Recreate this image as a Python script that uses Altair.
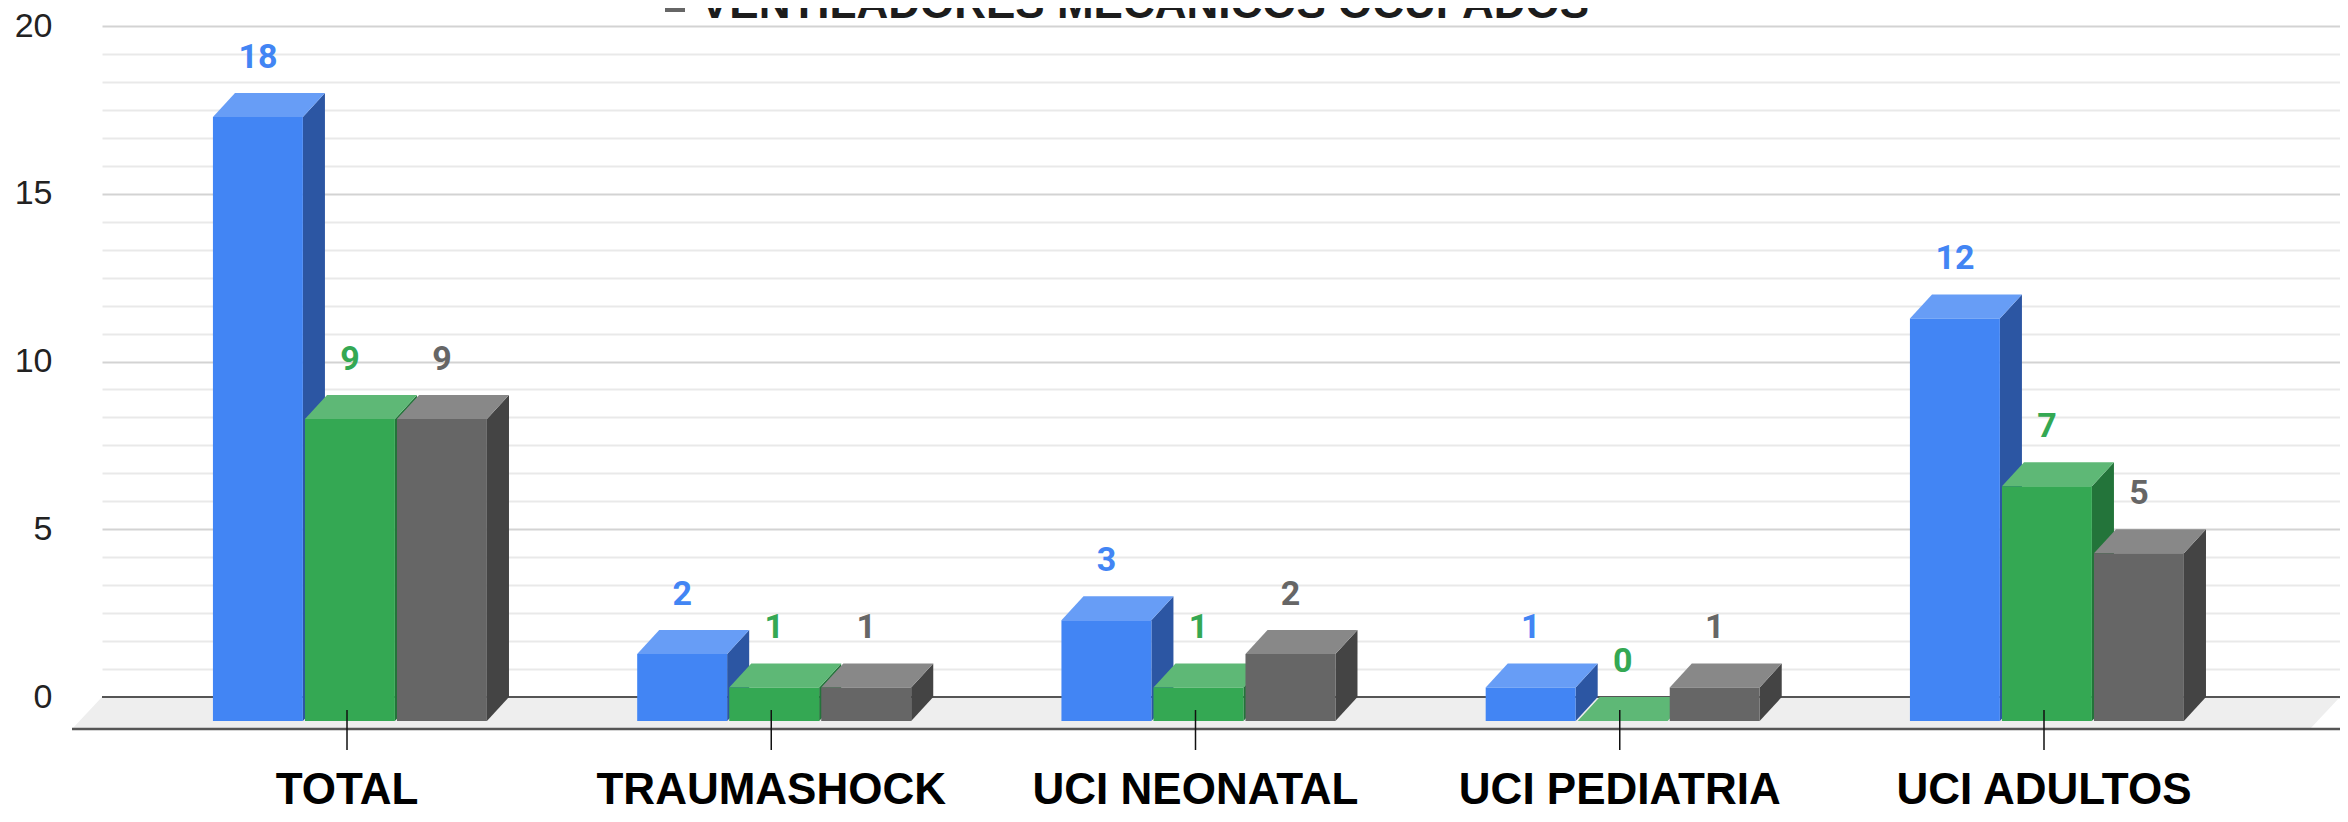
import altair as alt
import pandas as pd

# ---------------- data ----------------
categories = ["TOTAL", "TRAUMASHOCK", "UCI NEONATAL", "UCI PEDIATRIA", "UCI ADULTOS"]
serie_azul = [18, 2, 3, 1, 12]
serie_verde = [9, 1, 1, 0, 7]
serie_gris = [9, 1, 2, 1, 5]
legend_label = "VENTILADORES MECANICOS OCUPADOS"

series_values = [serie_azul, serie_verde, serie_gris]
front_colors = ["#4285F4", "#34A853", "#666666"]
side_colors = ["#2C56A3", "#23743A", "#444444"]
top_colors = ["#679DF6", "#5EB876", "#888888"]

# ---------------- style / geometry (in scale units) ----------------
BAR_W = 0.212
BAR_STEP = 0.2169
FIRST_LEFT = -0.316
DEPTH_X = 0.052
DEPTH_Y = 0.715
X_MIN, X_MAX = -0.5775, 4.6977
Y_MIN, Y_MAX = 0, 20
FLOOR_FRONT = -0.954
FLOOR_SHIFT = 0.0707

W, H = 2238, 671
PAD = {"left": 94, "top": 18, "right": 0, "bottom": 117}

xs = alt.Scale(domain=[X_MIN, X_MAX], nice=False, zero=False)
ys = alt.Scale(domain=[Y_MIN, Y_MAX], nice=False, zero=False)

front_rows, side_rows, top_rows, label_rows = [], [], [], []
for s, vals in enumerate(series_values):
    for i, v in enumerate(vals):
        bid = f"{s}-{i}"
        xl = i + FIRST_LEFT + s * BAR_STEP
        xr = xl + BAR_W
        front_rows.append(dict(bar=bid, xl=xl, xr=xr, y0=-DEPTH_Y, y1=v - DEPTH_Y, color=front_colors[s]))
        side_rows.append(dict(bar=bid, x=xr, lo=-DEPTH_Y, hi=v - DEPTH_Y, color=side_colors[s]))
        side_rows.append(dict(bar=bid, x=xr + DEPTH_X, lo=0.0, hi=float(v), color=side_colors[s]))
        top_rows.append(dict(bar=bid, y=v - DEPTH_Y, xa=xl, xb=xr, color=top_colors[s]))
        top_rows.append(dict(bar=bid, y=float(v), xa=xl + DEPTH_X, xb=xr + DEPTH_X, color=top_colors[s]))
        label_rows.append(dict(xc=(xl + xr) / 2, v=v, txt=str(v), color=front_colors[s]))

front_df = pd.DataFrame(front_rows)
side_df = pd.DataFrame(side_rows)
top_df = pd.DataFrame(top_rows)
label_df = pd.DataFrame(label_rows)
cat_df = pd.DataFrame({"idx": list(range(len(categories))), "cat": categories})

floor_df = pd.DataFrame({
    "fy": [0.0, FLOOR_FRONT],
    "fx": [X_MIN, X_MIN - FLOOR_SHIFT],
    "fx2": [X_MAX, X_MAX - FLOOR_SHIFT],
})

grid_values = [round(k * 5 / 6, 4) for k in range(25)]

y_axis = alt.Axis(
    values=grid_values,
    labelExpr="datum.value % 5 === 0 ? datum.label : ''",
    labelOverlap=False,
    labelFont="Liberation Sans, Arial, sans-serif",
    labelFontSize=34,
    labelColor="#222222",
    labelPadding=50,
    ticks=False,
    domain=False,
    grid=True,
    gridWidth=2,
    gridColor={"condition": {"test": "datum.value % 5 === 0", "value": "#d3d3d3"}, "value": "#e9e9e9"},
    title=None,
)


def Y(field, **kw):
    return alt.Y(field, scale=ys, axis=y_axis, **kw)


def X(field, **kw):
    return alt.X(field, scale=xs, axis=None, **kw)


floor = alt.Chart(floor_df).mark_area(orient="horizontal", color="#eeeeee").encode(
    y=Y("fy:Q"), x=X("fx:Q"), x2="fx2:Q",
)

zero_line = alt.Chart(pd.DataFrame({"a": [X_MIN], "b": [X_MAX], "y": [0.0]})).mark_rule(
    color="#555555", strokeWidth=2
).encode(x=X("a:Q"), x2="b:Q", y=Y("y:Q"))

front_line = alt.Chart(pd.DataFrame({"a": [X_MIN - FLOOR_SHIFT], "b": [X_MAX], "y": [FLOOR_FRONT]})).mark_rule(
    color="#555555", strokeWidth=2.5
).encode(x=X("a:Q"), x2="b:Q", y=Y("y:Q"))

sides = alt.Chart(side_df).mark_area(orient="vertical").encode(
    x=X("x:Q"), y=Y("lo:Q", stack=None), y2="hi:Q",
    detail="bar:N", color=alt.Color("color:N", scale=None),
)

tops = alt.Chart(top_df).mark_area(orient="horizontal").encode(
    y=Y("y:Q"), x=X("xa:Q", stack=None), x2="xb:Q",
    detail="bar:N", color=alt.Color("color:N", scale=None),
)

fronts = alt.Chart(front_df).mark_rect().encode(
    x=X("xl:Q"), x2="xr:Q", y=Y("y0:Q"), y2="y1:Q",
    color=alt.Color("color:N", scale=None),
)

labels = alt.Chart(label_df).mark_text(
    font="Roboto, Liberation Sans, sans-serif", fontSize=34, fontWeight="bold",
    baseline="alphabetic", align="center", dy=-25,
).encode(
    x=X("xc:Q"), y=Y("v:Q"), text="txt:N", color=alt.Color("color:N", scale=None),
)

ticks = alt.Chart(cat_df).mark_rule(color="#111111", strokeWidth=1.5).encode(
    x=X("idx:Q"), y=alt.value(684), y2=alt.value(724),
)

cat_labels = alt.Chart(cat_df).mark_text(
    font="Liberation Sans, Arial, sans-serif", fontSize=44, fontWeight="bold",
    baseline="alphabetic", align="center", color="#000000",
).encode(x=X("idx:Q"), y=alt.value(778), text="cat:N")

legend_df = pd.DataFrame({"txt": [legend_label]})
legend_sq = alt.Chart(legend_df).mark_rect(color="#666666").encode(
    x=alt.value(563), x2=alt.value(583), y=alt.value(-34), y2=alt.value(-14)
)
legend_txt = alt.Chart(legend_df).mark_text(
    font="Liberation Sans, Arial, sans-serif", fontSize=44, fontWeight="bold",
    baseline="alphabetic", align="left", color="#1c1c1c",
).encode(x=alt.value(598), y=alt.value(-8), text="txt:N")

chart = alt.layer(
    floor, zero_line, sides, tops, fronts, front_line, ticks, labels, cat_labels, legend_sq, legend_txt
).properties(
    width=W, height=H, padding=PAD,
    autosize=alt.AutoSizeParams(type="none"),
    background="white",
).configure_view(stroke=None)

chart.save("out.html", embed_options={"renderer": "svg", "actions": False})
